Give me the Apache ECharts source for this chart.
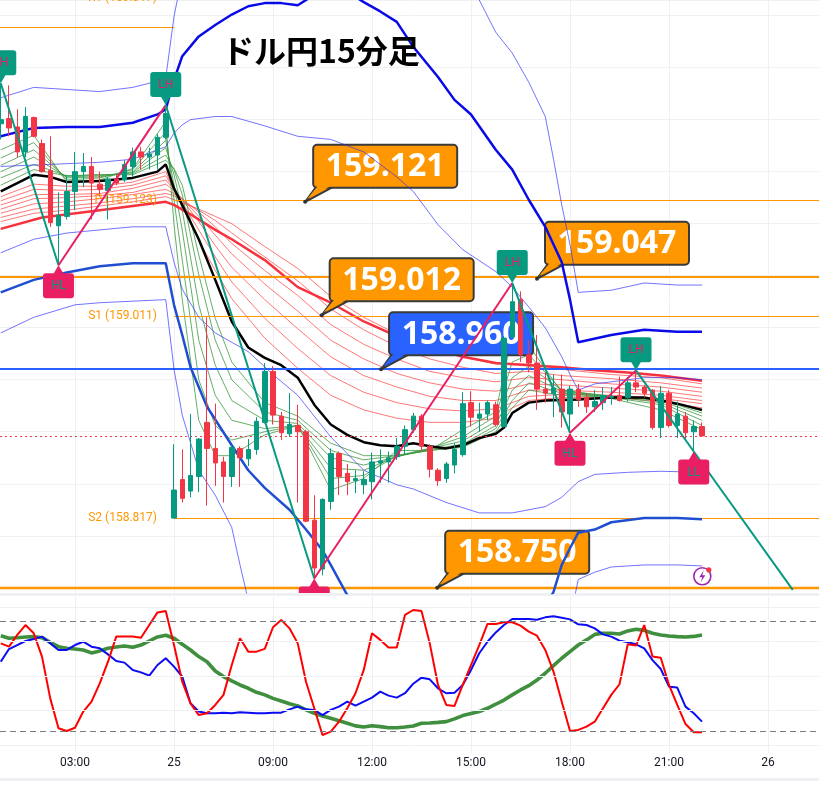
<!DOCTYPE html>
<html>
<head>
<meta charset="utf-8">
<title>ドル円15分足</title>
<script src="https://cdn.jsdelivr.net/npm/echarts@6/dist/echarts.min.js"></script>
<style>
html,body{margin:0;padding:0;background:#ffffff;}
#chart{width:819px;height:790px;}
</style>
</head>
<body>
<div id="chart"></div>
<script>
// ---------- time axis (15-minute bars, index 0 = first bar) ----------
const tickIdx = [9, 21, 33, 45, 57, 69, 81, 93];
const tickLabels = ['03:00', '25', '09:00', '12:00', '15:00', '18:00', '21:00', '26'];

// ---------- candles ----------
const opens = [159.196,159.201,159.193,159.169,159.202,159.177,159.151,159.098,159.107,159.131,
159.150,159.155,159.138,159.132,159.143,159.142,159.155,159.169,159.164,159.166,
159.183,158.817,158.854,158.843,158.857,158.909,158.884,158.871,158.857,158.884,
158.874,158.883,158.909,158.958,158.915,158.898,158.906,158.900,158.815,158.768,
158.833,158.879,158.860,158.853,158.849,158.852,158.870,158.871,158.876,158.886,
158.902,158.915,158.886,158.863,158.855,158.868,158.878,158.928,158.913,158.917,
158.926,158.905,158.991,159.027,158.974,158.966,158.941,158.937,158.941,158.917,
158.941,158.933,158.924,158.928,158.933,158.935,158.933,158.947,158.943,158.940,
158.904,158.937,158.906,158.915,158.900,158.905];
const closes = [159.200,159.192,159.169,159.203,159.184,159.150,159.101,159.108,159.131,159.150,
159.155,159.139,159.133,159.143,159.139,159.157,159.169,159.164,159.167,159.183,
159.206,158.844,158.836,158.858,158.893,158.884,158.870,158.857,158.885,158.875,
158.883,158.910,158.958,158.916,158.899,158.907,158.900,158.814,158.769,158.835,
158.879,158.857,158.852,158.855,158.854,158.871,158.872,158.875,158.886,158.902,
158.915,158.886,158.864,158.853,158.869,158.883,158.927,158.914,158.917,158.928,
158.907,158.990,159.025,158.974,158.966,158.941,158.937,158.942,158.919,158.941,
158.931,158.924,158.929,158.935,158.934,158.930,158.947,158.943,158.937,158.904,
158.937,158.906,158.917,158.899,158.905,158.896];
const lows = [159.181,159.184,159.164,159.164,159.183,159.149,159.097,159.060,159.104,159.113,
159.135,159.104,159.126,159.104,159.137,159.140,159.145,159.152,159.152,159.152,
159.181,158.817,158.832,158.837,158.842,158.829,158.848,158.832,158.847,158.847,
158.867,158.878,158.908,158.907,158.892,158.895,158.832,158.813,158.759,158.762,
158.825,158.839,158.839,158.841,158.840,158.835,158.851,158.851,158.873,158.878,
158.899,158.881,158.856,158.848,158.851,158.860,158.876,158.905,158.900,158.911,
158.905,158.904,158.990,158.967,158.957,158.921,158.928,158.914,158.904,158.899,
158.924,158.918,158.919,158.921,158.926,158.929,158.929,158.938,158.933,158.902,
158.894,158.904,158.894,158.892,158.881,158.896];
const highs = [159.235,159.233,159.210,159.212,159.203,159.181,159.184,159.130,159.147,159.169,
159.168,159.164,159.150,159.145,159.147,159.161,159.173,159.174,159.173,159.186,
159.214,158.888,158.883,158.917,158.894,159.010,158.927,158.876,158.887,158.886,
158.893,158.914,158.966,158.963,158.919,158.937,158.926,158.902,158.839,158.836,
158.884,158.881,158.869,158.863,158.862,158.880,158.883,158.881,158.894,158.906,
158.918,158.917,158.888,158.865,158.871,158.889,158.938,158.939,158.928,158.930,
158.929,158.992,159.043,159.035,158.988,158.993,158.957,158.955,158.955,158.944,
158.946,158.937,158.940,158.943,158.943,158.953,158.952,158.959,158.945,158.941,
158.944,158.940,158.929,158.919,158.911,158.909];

// ---------- moving averages ----------
const blackIdx = [0,2,4,6,8,12,16,19,20,21,22,24,26,28,30,32,34,36,38,40,42,44,46,48,50,52,54,56,58,60,61,62,64,66,70,74,78,80,82,85];
const blackVal = [159.131,159.139,159.147,159.145,159.140,159.141,159.144,159.150,159.157,159.134,
159.118,159.085,159.046,159.006,158.981,158.971,158.964,158.952,158.926,158.907,
158.897,158.890,158.887,158.886,158.889,158.886,158.884,158.887,158.894,158.898,
158.904,158.918,158.928,158.930,158.931,158.933,158.933,158.930,158.927,158.921];
const longMaIdx = [0,5,12,20,21,23,26,28,32,36,40,44,48,52,56,60,64,68,72,76,80,85];
const longMaVal = [159.095,159.106,159.113,159.121,159.118,159.109,159.094,159.085,159.065,159.039,159.024,
159.006,158.992,158.981,158.972,158.966,158.964,158.962,158.959,158.957,158.954,158.949];

// ---------- ribbon (same knots for every line) ----------
const ribIdx = [0,4,8,12,16,20,21,22,24,26,28,32,36,40,44,48,52,56,60,62,64,68,74,80,85];
const green1 = [159.171,159.185,159.140,159.142,159.153,159.198,159.099,159.027,158.911,158.877,158.877,158.897,158.906,158.844,158.855,158.882,158.882,158.902,158.919,158.993,158.983,158.938,158.932,158.921,158.902];
const green2 = [159.163,159.178,159.142,159.144,159.152,159.188,159.123,159.065,158.950,158.906,158.892,158.900,158.906,158.855,158.858,158.877,158.884,158.895,158.915,158.967,158.974,158.940,158.933,158.926,158.906];
const green3 = [159.156,159.171,159.144,159.145,159.150,159.180,159.137,159.094,158.988,158.935,158.911,158.903,158.906,158.865,158.863,158.876,158.884,158.891,158.910,158.952,158.963,158.940,158.934,158.928,158.911];
const green4 = [159.150,159.164,159.145,159.146,159.149,159.173,159.147,159.113,159.022,158.964,158.930,158.911,158.908,158.875,158.868,158.876,158.883,158.888,158.906,158.940,158.954,158.939,158.934,158.930,158.915];
const green5 = [159.144,159.157,159.146,159.147,159.148,159.166,159.152,159.128,159.051,158.988,158.950,158.919,158.911,158.882,158.873,158.877,158.882,158.886,158.903,158.930,158.947,158.937,158.934,158.931,158.918];
const green6 = [159.137,159.152,159.146,159.147,159.147,159.161,159.153,159.137,159.070,159.009,158.967,158.928,158.915,158.889,158.877,158.877,158.882,158.885,158.900,158.923,158.940,158.935,158.933,158.931,158.920];
const red1 = [159.126,159.138,159.136,159.136,159.140,159.150,159.132,159.116,159.084,159.055,159.028,158.990,158.961,158.935,158.921,158.913,158.909,158.909,158.913,158.923,158.930,158.933,158.933,158.929,158.923];
const red2 = [159.122,159.133,159.132,159.133,159.137,159.146,159.133,159.120,159.094,159.068,159.044,159.009,158.980,158.954,158.938,158.928,158.922,158.920,158.922,158.928,158.934,158.936,158.935,158.932,158.927];
const red3 = [159.118,159.128,159.128,159.129,159.134,159.142,159.133,159.123,159.102,159.079,159.058,159.027,158.999,158.972,158.954,158.943,158.934,158.930,158.930,158.935,158.940,158.940,158.938,158.935,158.930];
const red4 = [159.114,159.124,159.125,159.127,159.130,159.138,159.132,159.124,159.107,159.089,159.071,159.042,159.016,158.988,158.970,158.956,158.947,158.941,158.939,158.942,158.946,158.945,158.942,158.939,158.934];
const red5 = [159.110,159.119,159.121,159.124,159.128,159.133,159.129,159.124,159.111,159.097,159.081,159.055,159.031,159.003,158.984,158.970,158.958,158.952,158.948,158.950,158.952,158.950,158.946,158.943,158.938];
const red6 = [159.106,159.114,159.117,159.120,159.124,159.129,159.127,159.122,159.113,159.103,159.091,159.068,159.045,159.018,158.998,158.982,158.970,158.962,158.956,158.957,158.958,158.954,158.951,158.947,158.942];
const red7 = [159.102,159.110,159.113,159.117,159.121,159.126,159.123,159.120,159.114,159.107,159.100,159.078,159.057,159.030,159.010,158.994,158.981,158.972,158.965,158.965,158.965,158.960,158.955,158.952,158.946];

// ---------- bands ----------
const upThickIdx = [0,2,4,8,12,16,19,20,21,22,24,26,28,30,32,34,36,38,40,42,44,46,48,50,53,55,57,60,62,64,66,68,69,70,74,78,82,85];
const upThickVal = [159.184,159.188,159.192,159.193,159.193,159.197,159.205,159.210,159.238,159.261,
159.280,159.291,159.301,159.309,159.312,159.312,159.310,159.320,159.327,159.323,
159.313,159.304,159.294,159.270,159.241,159.219,159.205,159.171,159.152,159.123,
159.097,159.063,159.027,158.986,158.993,158.998,158.996,158.996];
const loThickIdx = [0,4,8,12,16,20,21,22,23,25,28,30,32,35,37,39,40,42,44,50,60,65,67,68,69,70,72,74,78,82,85];
const loThickVal = [159.034,159.046,159.053,159.059,159.062,159.062,159.022,158.993,158.962,158.924,
158.887,158.863,158.846,158.825,158.806,158.786,158.772,158.743,158.724,158.700,
158.700,158.717,158.746,158.772,158.788,158.803,158.806,158.813,158.817,158.817,158.816];
const upOuterIdx = [0,4,8,12,16,19,20,21,22,26,36,46,54,58,60,62,64,66,67,68,69,70,72,74,78,82,85];
const upOuterVal = [159.221,159.231,159.229,159.227,159.231,159.237,159.240,159.299,159.339,159.383,
159.421,159.392,159.344,159.315,159.284,159.264,159.236,159.203,159.162,159.118,
159.080,159.034,159.035,159.036,159.043,159.041,159.041];
const upInnerIdx = [0,6,12,16,18,20,21,22,23,26,28,32,36,40,44,48,50,53,56,60,62,64,66,68,69,70,72,74,78,82,85];
const upInnerVal = [159.155,159.157,159.159,159.162,159.168,159.174,159.187,159.195,159.200,159.203,
159.203,159.194,159.184,159.181,159.169,159.145,159.131,159.099,159.075,159.054,
159.039,159.020,159.000,158.972,158.955,158.940,158.946,158.948,158.952,158.952,158.950];
const loInnerIdx = [0,4,8,12,16,20,21,22,24,26,30,33,36,40,44,48,50,54,58,62,66,68,70,72,76,80,85];
const loInnerVal = [159.072,159.085,159.091,159.094,159.097,159.097,159.063,159.037,159.010,158.995,
158.977,158.955,158.935,158.895,158.863,158.849,158.845,158.832,158.822,158.822,
158.828,158.837,158.852,158.859,158.861,158.862,158.861];
const loOuterIdx = [0,4,9,12,20,21,22,24,26,28,29,30,32,50,65,69,70,72,74,78,82,85];
const loOuterVal = [158.995,159.010,159.022,159.024,159.027,158.960,158.916,158.863,158.839,158.808,
158.772,158.738,158.700,158.623,158.642,158.719,158.758,158.765,158.770,158.772,158.772,158.771];

// ---------- horizontal levels ----------
const levelStart = [-1, 21, 21, 21, 21, -1, -1, -1, -1];
const levelEnd   = [21, 100, 100, 100, 100, 100, 100, 100, 100];
const levelValue = [159.289, 159.317, 159.123, 159.011, 158.817, 159.049, 158.750, 158.960, 158.896];
const levelName  = ['', 'R1', 'P', 'S1', 'S2', '', '', '', ''];
const levelKind  = ['pivot','pivot','pivot','pivot','pivot','keyOrange','keyOrangeBold','keyBlue','last'];

// ---------- callouts ----------
const calloutIdx   = [36.9, 38.9, 65.0, 46.1, 52.9];
const calloutPrice = [159.121, 159.012, 159.047, 158.960, 158.750];
const calloutText  = ['159.121', '159.012', '159.047', '158.960', '158.750'];
const calloutTheme = ['orange', 'orange', 'orange', 'blue', 'orange'];

// ---------- zigzag swing points ----------
const zzIdx  = [0, 7, 20, 38, 62, 69, 77, 84];
const zzVal  = [159.235, 159.060, 159.214, 158.759, 159.043, 158.899, 158.959, 158.881];
const zzType = ['LH', 'HL', 'LH', 'LL', 'LH', 'HL', 'LH', 'LL'];
const projIdx = 96, projVal = 158.748;

// ---------- lower oscillator ----------
const oscRed = [67.8,66.0,72.4,77.8,73.3,60.6,37.8,21.5,20.0,21.8,30.6,36.0,46.0,57.8,71.5,71.5,71.5,70.9,77.8,84.7,
85.5,66.9,46.9,35.1,28.7,29.7,34.2,39.7,56.0,70.6,63.3,63.3,64.8,76.6,80.6,76.0,67.8,46.9,32.4,17.8,
19.7,25.1,32.4,40.6,53.3,73.3,69.7,65.5,65.5,83.3,86.0,85.5,67.8,45.1,34.2,33.7,45.1,56.0,66.9,78.4,
78.4,79.3,79.3,77.5,74.2,72.0,64.2,52.4,36.0,20.0,20.6,22.4,25.1,32.4,39.7,45.5,67.3,66.6,77.8,60.6,
60.0,45.1,34.2,23.8,19.3,19.3];
const oscBlue = [57.8,64.7,66.9,69.1,70.2,71.5,67.8,64.2,64.2,66.9,68.7,66.0,65.1,61.8,58.2,57.3,53.3,52.0,50.2,56.0,
59.7,55.1,49.7,35.1,30.6,29.7,29.7,30.0,29.7,30.2,30.0,29.7,29.7,30.0,30.0,31.8,33.3,31.8,31.5,28.7,
31.5,33.3,36.0,33.8,36.0,38.2,41.5,39.3,38.2,40.6,45.8,49.1,48.2,43.3,40.6,40.9,45.1,53.3,62.4,68.7,
73.8,77.8,81.1,81.1,81.1,80.7,82.0,82.6,81.8,80.9,78.2,77.8,76.0,72.7,71.5,69.3,68.4,67.3,65.1,58.7,
53.8,44.2,43.7,33.3,29.7,25.1];
const oscGreen = [72.0,70.6,70.9,71.3,71.5,70.9,68.4,66.0,65.1,64.7,64.2,62.6,63.7,65.1,65.8,66.4,65.7,66.9,69.1,71.3,
72.2,70.6,67.3,64.2,60.6,57.8,52.7,49.7,47.3,45.1,43.3,41.1,39.7,37.8,36.4,34.9,33.7,31.5,29.7,28.2,
26.9,25.6,24.2,22.8,22.2,22.9,22.4,21.8,21.8,22.2,22.7,24.2,24.4,24.7,25.1,26.6,28.4,29.5,30.6,32.4,
34.6,36.9,39.7,42.4,44.7,47.8,51.5,55.7,59.7,63.3,66.9,69.7,72.7,73.3,73.3,72.9,74.6,75.5,74.9,73.3,
72.4,71.8,71.5,71.3,71.6,72.4];
const oscGridLevels = [12.5, 31.25, 50, 68.75, 87.5];
const oscBandLevels = [80, 20];

// ================= chart =================
const chart = echarts.init(document.getElementById('chart'), null, {renderer: 'canvas', width: 819, height: 790});
// bar i is centred at 0.75 + 8.25*i px, plot spans 0..819 px
const X_MIN = -0.75 / 8.25, X_MAX = (819 - 0.75) / 8.25;
const labelMap = {};
tickIdx.forEach((v, k) => { labelMap[v] = tickLabels[k]; });
const pairs = (idx, vals) => idx.map((x, k) => [x, vals[k]]);

function lineS(idx, vals, color, width, z) {
  return {
    type: 'line', xAxisIndex: 0, yAxisIndex: 0, data: pairs(idx, vals),
    symbol: 'none', showSymbol: false, silent: true, z: z, animation: false,
    lineStyle: {color: color, width: width}, emphasis: {disabled: true}
  };
}

const series = [];
// vertical time grid lines (main pane)
series.push({
  type: 'custom', xAxisIndex: 0, yAxisIndex: 0, z: 0, silent: true, animation: false,
  encode: {x: 0, y: 1},
  data: tickIdx.map(v => [v, 159.0]),
  renderItem: function (params, api) {
    const p = api.coord([api.value(0), 159.0]);
    const x = Math.round(p[0]) + 0.5;
    return {type: 'line', shape: {x1: x, y1: params.coordSys.y, x2: x, y2: params.coordSys.y + params.coordSys.height},
      style: {stroke: '#eef0f3', lineWidth: 1}};
  }
});
// ribbons
[red7, red6, red5, red4, red3, red2, red1].forEach(v => series.push(lineS(ribIdx, v, 'rgba(255,66,66,0.72)', 1, 1)));
[green6, green5, green4, green3, green2, green1].forEach(v => series.push(lineS(ribIdx, v, 'rgba(56,152,60,0.78)', 1, 1)));
series.push(lineS(longMaIdx, longMaVal, '#f7323f', 2.5, 1));
series.push(lineS(blackIdx, blackVal, '#000000', 2.5, 1));

// levels
const levelStyle = {
  pivot: {c: '#ff9800', w: 1},
  keyOrange: {c: '#ff9800', w: 2},
  keyOrangeBold: {c: '#ff9800', w: 2.5},
  keyBlue: {c: '#2962ff', w: 2},
  last: {c: '#f23645', w: 1, dash: [2, 3]}
};
const levelData = levelStart.map((s, i) => [s, levelValue[i], levelEnd[i]]);
series.push({
  type: 'custom', xAxisIndex: 0, yAxisIndex: 0, z: 2, silent: true, animation: false,
  encode: {x: 0, y: 1},
  data: levelData,
  renderItem: function (params, api) {
    const i = params.dataIndex;
    const a = api.coord([api.value(0), api.value(1)]);
    const b = api.coord([api.value(2), api.value(1)]);
    const st = levelStyle[levelKind[i]];
    const y = Math.round(a[1]) + (st.w === 1 ? 0.5 : 0);
    const x0 = levelStart[i] > 0 ? a[0] : 0;
    return {
      type: 'line', shape: {x1: x0, y1: y, x2: b[0], y2: y},
      style: {stroke: st.c, lineWidth: st.w, lineDash: st.dash || null}
    };
  }
});
// level labels (drawn above candles)
series.push({
  type: 'custom', xAxisIndex: 0, yAxisIndex: 0, z: 8, silent: true, animation: false,
  encode: {x: 0, y: 1},
  data: levelData,
  renderItem: function (params, api) {
    const i = params.dataIndex;
    if (!levelName[i]) return null;
    const a = api.coord([api.value(0), api.value(1)]);
    return {
      type: 'text', x: a[0] - 17, y: a[1],
      style: {text: levelName[i] + ' (' + levelValue[i].toFixed(3) + ')', fill: '#ff9800',
        font: '12px Roboto', align: 'right', verticalAlign: 'middle'}
    };
  }
});

// callouts
series.push({
  type: 'custom', xAxisIndex: 0, yAxisIndex: 0, z: 3, silent: true, animation: false,
  encode: {x: 0, y: 1},
  data: calloutIdx.map((x, i) => [x, calloutPrice[i]]),
  renderItem: function (params, api) {
    const i = params.dataIndex;
    const p = api.coord([api.value(0), api.value(1)]);
    const fill = calloutTheme[i] === 'blue' ? '#2962ff' : '#ff9800';
    const w = 144, h = 43;
    const bx = p[0] + 8, by = p[1] - 14 - h;
    return {type: 'group', children: [
      {type: 'polygon', shape: {points: [[p[0], p[1]], [bx + 3, by + h - 1], [bx + 20, by + h - 1]]},
        style: {fill: fill, stroke: '#3a3a3a', lineWidth: 2, lineJoin: 'round'}},
      {type: 'rect', shape: {x: bx, y: by, width: w, height: h, r: 4},
        style: {fill: fill, stroke: '#3a3a3a', lineWidth: 2}},
      {type: 'polygon', shape: {points: [[p[0] + 2, p[1] - 3], [bx + 5, by + h - 2], [bx + 18, by + h - 2]]},
        style: {fill: fill}},
      {type: 'text', x: bx + w / 2, y: by + h / 2 + 1,
        style: {text: calloutText[i], fill: '#ffffff', font: 'bold 32px "Noto Sans"', align: 'center', verticalAlign: 'middle'}},
      {type: 'circle', shape: {cx: p[0], cy: p[1], r: 2}, style: {fill: '#333333'}}
    ]};
  }
});

// bands
series.push(lineS(upOuterIdx, upOuterVal, 'rgba(40,40,255,0.65)', 1, 4));
series.push(lineS(upInnerIdx, upInnerVal, 'rgba(40,40,255,0.65)', 1, 4));
series.push(lineS(loInnerIdx, loInnerVal, 'rgba(40,40,255,0.65)', 1, 4));
series.push(lineS(loOuterIdx, loOuterVal, 'rgba(40,40,255,0.65)', 1, 4));
series.push(lineS(upThickIdx, upThickVal, '#0a0ae8', 2.5, 4));
series.push(lineS(loThickIdx, loThickVal, '#1f4fd0', 2.5, 4));

// candles
series.push({
  type: 'candlestick', xAxisIndex: 0, yAxisIndex: 0, z: 5, silent: true, animation: false,
  encode: {x: 0, y: [1, 2, 3, 4]},
  data: opens.map((o, i) => [i, o, closes[i], lows[i], highs[i]]),
  barWidth: 5,
  itemStyle: {color: '#089981', color0: '#f23645', borderColor: '#089981', borderColor0: '#f23645', borderWidth: 1}
});

// zigzag
for (let k = 0; k < zzIdx.length - 1; k++) {
  const down = zzType[k] === 'LH' || zzType[k] === 'HH';
  series.push({
    type: 'line', xAxisIndex: 0, yAxisIndex: 0, z: 6, silent: true, animation: false, symbol: 'none',
    data: [[zzIdx[k], zzVal[k]], [zzIdx[k + 1], zzVal[k + 1]]],
    lineStyle: {color: down ? '#089981' : '#e91e63', width: 2}
  });
}
series.push({
  type: 'line', xAxisIndex: 0, yAxisIndex: 0, z: 6, silent: true, animation: false, symbol: 'none',
  data: [[zzIdx[zzIdx.length - 1], zzVal[zzVal.length - 1]], [projIdx, projVal]],
  lineStyle: {color: '#089981', width: 2}
});
series.push({
  type: 'custom', xAxisIndex: 0, yAxisIndex: 0, z: 7, silent: true, animation: false, clip: true,
  encode: {x: 0, y: 1},
  data: zzIdx.map((x, i) => [x, zzVal[i]]),
  renderItem: function (params, api) {
    const i = params.dataIndex;
    const p = api.coord([api.value(0), api.value(1)]);
    const top = zzType[i] === 'LH' || zzType[i] === 'HH';
    const fill = top ? '#089981' : '#e91e63';
    const txt = top ? '#e91e63' : '#089981';
    const w = 31, h = 25, gap = 8;
    const bx = p[0] - w / 2;
    const by = top ? p[1] - gap - h : p[1] + gap;
    const tri = top ? [[p[0] - 5, by + h - 0.5], [p[0], p[1]], [p[0] + 5, by + h - 0.5]]
                    : [[p[0] - 5, by + 0.5], [p[0], p[1]], [p[0] + 5, by + 0.5]];
    return {type: 'group', children: [
      {type: 'rect', shape: {x: bx, y: by, width: w, height: h, r: 3}, style: {fill: fill}},
      {type: 'polygon', shape: {points: tri}, style: {fill: fill}},
      {type: 'text', x: p[0], y: by + h / 2 + 0.5,
        style: {text: zzType[i], fill: txt, font: '12px Roboto', align: 'center', verticalAlign: 'middle'}}
    ]};
  }
});

// lower pane
const oscX = oscRed.map((_, i) => i);
series.push({
  type: 'custom', xAxisIndex: 1, yAxisIndex: 1, z: 0, silent: true, animation: false,
  encode: {x: 0, y: 1},
  data: tickIdx.map(v => [v, 50]),
  renderItem: function (params, api) {
    const p = api.coord([api.value(0), 50]);
    const x = Math.round(p[0]) + 0.5;
    return {type: 'line', shape: {x1: x, y1: params.coordSys.y, x2: x, y2: params.coordSys.y + params.coordSys.height},
      style: {stroke: '#eef0f3', lineWidth: 1}};
  }
});
series.push({
  type: 'line', xAxisIndex: 1, yAxisIndex: 1, data: [[-10, 50]], symbol: 'none', silent: true, z: 1,
  lineStyle: {opacity: 0}, animation: false,
  markLine: {
    silent: true, symbol: ['none', 'none'], label: {show: false}, animation: false,
    data: oscGridLevels.map(v => ({yAxis: v, lineStyle: {color: '#eef0f3', type: 'solid', width: 1}}))
      .concat(oscBandLevels.map(v => ({yAxis: v, lineStyle: {color: '#787b86', type: [6, 4], width: 1}})))
  }
});
series.push({type: 'line', xAxisIndex: 1, yAxisIndex: 1, data: pairs(oscX, oscGreen), symbol: 'none', silent: true, z: 3,
  lineStyle: {color: '#3f8f3f', width: 3.6}, animation: false});
series.push({type: 'line', xAxisIndex: 1, yAxisIndex: 1, data: pairs(oscX, oscBlue), symbol: 'none', silent: true, z: 3,
  lineStyle: {color: '#0b0bf5', width: 2}, animation: false});
series.push({type: 'line', xAxisIndex: 1, yAxisIndex: 1, data: pairs(oscX, oscRed), symbol: 'none', silent: true, z: 3,
  lineStyle: {color: '#ff0000', width: 2}, animation: false});

const xBase = {
  type: 'value', min: X_MIN, max: X_MAX,
  axisLine: {show: false}, axisTick: {show: false, customValues: tickIdx},
  splitLine: {show: false}
};

chart.setOption({
  animation: false,
  backgroundColor: '#ffffff',
  grid: [
    {left: 0, right: 0, top: 0, height: 593},
    {left: 0, right: 0, top: 597, height: 156}
  ],
  xAxis: [
    Object.assign({gridIndex: 0, axisLabel: {show: false}}, xBase),
    Object.assign({gridIndex: 1, axisLabel: {
      show: true, margin: 4, color: '#131722', fontSize: 12, fontFamily: 'Roboto',
      customValues: tickIdx,
      formatter: v => labelMap[Math.round(v)] || ''
    }}, xBase)
  ],
  yAxis: [
    {type: 'value', gridIndex: 0, min: 158.745, max: 159.315, splitNumber: 11,
      axisLabel: {show: false}, axisLine: {show: false}, axisTick: {show: false},
      splitLine: {show: true, lineStyle: {color: '#eef0f3'}}},
    {type: 'value', gridIndex: 1, min: 8, max: 93.1,
      axisLabel: {show: false}, axisLine: {show: false}, axisTick: {show: false}, splitLine: {show: false}}
  ],
  graphic: [
    {type: 'rect', left: 0, top: 593, shape: {width: 819, height: 3}, style: {fill: '#eef0f3'}, silent: true},
    {type: 'rect', left: 0, top: 778, shape: {width: 819, height: 3}, style: {fill: '#eef0f3'}, silent: true},
    {type: 'text', left: 222, top: 35, z: 100,
      style: {text: 'ドル円15分足', fill: '#000000', font: 'bold 32px "Noto Sans CJK JP"'}},
    {type: 'group', left: 693, top: 567, z: 100, children: [
      {type: 'circle', shape: {cx: 9, cy: 11, r: 8.5}, style: {fill: '#ffffff', stroke: '#9c27b0', lineWidth: 1.6}},
      {type: 'polygon', shape: {points: [[10.5, 5], [6, 12], [9, 12], [7.5, 17], [12, 10], [9, 10]]}, style: {fill: '#9c27b0'}},
      {type: 'circle', shape: {cx: 15.5, cy: 4.5, r: 2.6}, style: {fill: '#f23645'}}
    ]}
  ],
  series: series
});
</script>
</body>
</html>
